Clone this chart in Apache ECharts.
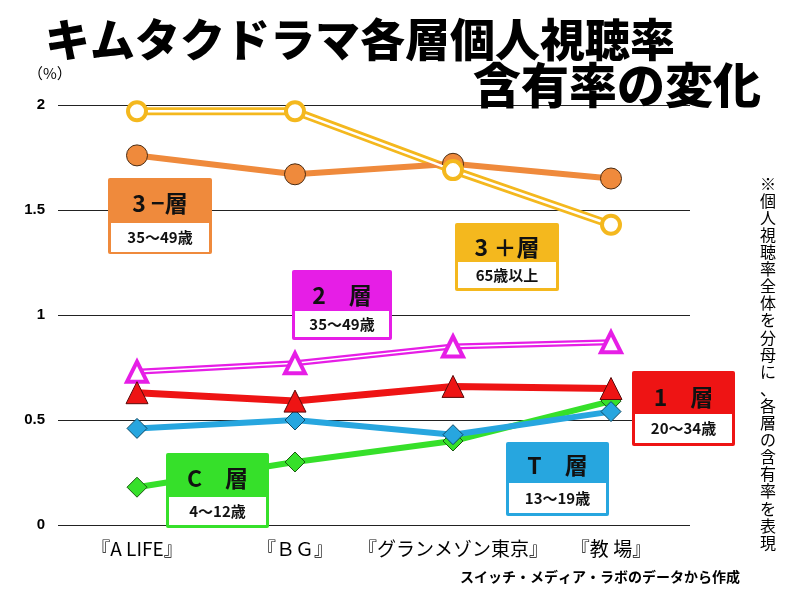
<!DOCTYPE html>
<html><head><meta charset="utf-8">
<script src="https://cdn.jsdelivr.net/npm/echarts@6/dist/echarts.min.js"></script>
<style>html,body{margin:0;padding:0;background:#fff}#c{width:800px;height:600px}</style>
</head><body><div id="c"></div>
<script>
const categories = ['『A LIFE』', '『ＢＧ』', '『グランメゾン東京』', '『教 場』'];
const yTicks = [0, 0.5, 1, 1.5, 2];
const plus3 = [1.97, 1.97, 1.69, 1.43];   // 3+層
const minus3 = [1.76, 1.67, 1.72, 1.65];  // 3-層
const layer2 = [0.73, 0.77, 0.85, 0.87];  // 2層
const layer1 = [0.63, 0.59, 0.66, 0.65];  // 1層
const layerT = [0.46, 0.50, 0.43, 0.54];  // T層
const layerC = [0.18, 0.30, 0.40, 0.59];  // C層
const boxTitles = ['3 −層', '2　層', '3 ＋層', '1　層', 'T　層', 'C　層'];
const boxSubs = ['35～49歳', '35～49歳', '65歳以上', '20～34歳', '13～19歳', '4～12歳'];
const titleLine1 = 'キムタクドラマ各層個人視聴率';
const titleLine2 = '含有率の変化';
const unitLabel = '（%）';
const note = '※個人視聴率全体を分母に、各層の含有率を表現';
const source = 'スイッチ・メディア・ラボのデータから作成';

const JP = '"Noto Sans CJK JP", sans-serif';
const C = {yellow:'#F4B81E', orange:'#EF8A3C', magenta:'#E61EE6', red:'#EE1414', blue:'#27A6DF', green:'#36E02A', dark:'#4a2a10'};

function box(x, y, w, h, color, title, sub, headCY, whiteTop, whiteBot) {
  return {
    type: 'group', z: 100, children: [
      {type:'rect', z:100, shape:{x:x, y:y, width:w, height:h, r:2}, style:{fill:color}},
      {type:'rect', z:101, shape:{x:x+3, y:whiteTop, width:w-6, height:whiteBot-whiteTop}, style:{fill:'#fff'}},
      {type:'text', z:102, x:x+w/2, y:headCY, style:{text:title, fontSize:23, fontWeight:'bold', fontFamily:JP, fill:'#111', align:'center', verticalAlign:'middle'}},
      {type:'text', z:102, x:x+w/2, y:(whiteTop+whiteBot)/2, style:{text:sub, fontSize:15, fontWeight:'bold', fontFamily:JP, fill:'#111', align:'center', verticalAlign:'middle'}}
    ]
  };
}

const chart = echarts.init(document.getElementById('c'));
const option = {
  backgroundColor: '#fff',
  animation: false,
  title: [
    {text: titleLine1, left: 40, top: 12, textStyle:{fontSize:45, fontWeight:900, fontFamily:JP, color:'#000'}},
    {text: titleLine2, left: 468, top: 56, textStyle:{fontSize:48, fontWeight:900, fontFamily:JP, color:'#000'}}
  ],
  grid: {left: 58, right: 110, top: 105, bottom: 75},
  xAxis: {
    type: 'category', data: categories, boundaryGap: true,
    axisLine:{show:false}, axisTick:{show:false},
    axisLabel:{fontSize:19, color:'#000', fontFamily:JP, margin:14, interval:0}
  },
  yAxis: {
    type: 'value', min: yTicks[0], max: yTicks[yTicks.length-1], interval: 0.5,
    axisLine:{show:false}, axisTick:{show:false},
    axisLabel:{fontSize:15, color:'#000', fontWeight:'bold', fontFamily:'"Liberation Sans", sans-serif', margin:13},
    splitLine:{lineStyle:{color:'#222', width:1}}
  },
  series: [
    {name:'3+層外', type:'line', data:plus3, symbol:'none', z:2, lineStyle:{color:C.yellow, width:8}},
    {name:'3+層', type:'line', data:plus3, symbol:'circle', symbolSize:18, z:3,
     lineStyle:{color:'#fff', width:2.5}, itemStyle:{color:'#fff', borderColor:C.yellow, borderWidth:4}},
    {name:'3-層', type:'line', data:minus3, symbol:'circle', symbolSize:21, z:2,
     lineStyle:{color:C.orange, width:6}, itemStyle:{color:C.orange, borderColor:C.dark, borderWidth:1}},
    {name:'2層外', type:'line', data:layer2, symbol:'none', z:2, lineStyle:{color:C.magenta, width:6}},
    {name:'2層', type:'line', data:layer2, symbol:'triangle', symbolSize:20, z:3,
     lineStyle:{color:'#fff', width:1.5}, itemStyle:{color:'#fff', borderColor:C.magenta, borderWidth:4}},
    {name:'C層', type:'line', data:layerC, symbol:'diamond', symbolSize:20, z:2,
     lineStyle:{color:C.green, width:6}, itemStyle:{color:C.green, borderColor:'#1a5a10', borderWidth:1}},
    {name:'T層', type:'line', data:layerT, symbol:'diamond', symbolSize:20, z:3,
     lineStyle:{color:C.blue, width:6}, itemStyle:{color:C.blue, borderColor:'#0f4a66', borderWidth:1}},
    {name:'1層', type:'line', data:layer1, symbol:'triangle', symbolSize:22, z:4,
     lineStyle:{color:C.red, width:7}, itemStyle:{color:C.red, borderColor:'#5a0a0a', borderWidth:1}}
  ],
  graphic: [
    {type:'text', left: 28, top: 66, style:{text: unitLabel, fontSize:15, fontFamily:JP, fill:'#000'}},
    box(108, 178, 104, 76, C.orange, boxTitles[0], boxSubs[0], 203, 223, 252),
    box(292, 270, 100, 70, C.magenta, boxTitles[1], boxSubs[1], 295, 311, 337),
    box(455, 223, 104, 68, C.yellow, boxTitles[2], boxSubs[2], 247, 262, 288),
    box(632, 371, 103, 75, C.red, boxTitles[3], boxSubs[3], 397, 414, 443),
    box(506, 442, 103, 74, C.blue, boxTitles[4], boxSubs[4], 465, 483, 513),
    box(166, 453, 103, 75, C.green, boxTitles[5], boxSubs[5], 478, 497, 525),
    {type:'text', x: 768, y: 175, style:{text: note.split('').join('\n'), fontSize:16, lineHeight:17.1, fontFamily:JP, fill:'#000', align:'center'}},
    {type:'text', x: 740, y: 577, style:{text: source, fontSize:14, fontWeight:'bold', fontFamily:JP, fill:'#000', align:'right', verticalAlign:'middle'}}
  ]
};
chart.setOption(option);
</script></body></html>
